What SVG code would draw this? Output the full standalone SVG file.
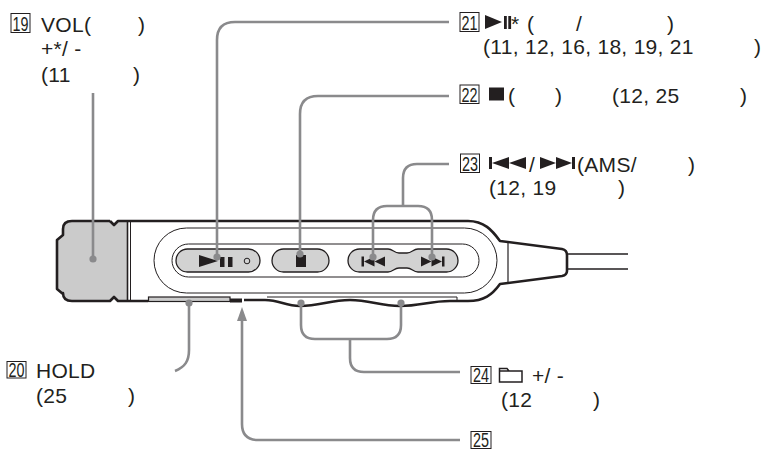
<svg xmlns="http://www.w3.org/2000/svg" width="770" height="450" viewBox="0 0 770 450">
<style>
text{font-family:"Liberation Sans",Arial,sans-serif;font-size:21px;fill:#231f20;letter-spacing:0.3px}
.num{font-size:20px;letter-spacing:0}
.box{fill:#fff;stroke:#231f20;stroke-width:1}
.ld{fill:none;stroke:#8a8a8c;stroke-width:2.6}
.dot{fill:#8a8a8c}
.ol{fill:none;stroke:#231f20;stroke-width:2.6;stroke-linejoin:round}
.thin{fill:none;stroke:#231f20;stroke-width:1}
.btn{fill:#d2d2d2;stroke:#231f20;stroke-width:1.3}
.ic{fill:#231f20}
</style>
<g id="device">
<path d="M127,222 H118 L114,225.5 L110,222 H72 Q64,222 64,229 V235 L58,240 V289 L64,294 V293 Q64,300 72,300 H110 L114,296.5 L118,300 H127 Z" fill="#cbcbcb"/>
<path class="ol" d="M110,221 H72 Q63,221 63,229 V235 L57,240 V289 L63,294 V293 Q63,301 72,301 H110 L114,297 L118,301 H148"/>
<path class="ol" d="M110,221 L114,225 L118,221 H468 C484,221 492,230 500,241 L562,249 Q567,250 567,255 V271 Q567,275 562,276 L508,283 L500,284 C492,295 484,301 468,301 H450 C430,301 420,306 400,306 C380,306 370,300 350,300 C330,300 320,306 300,306 C285,306 280,300 265,300 H244"/>
<line x1="127.5" y1="222" x2="127.5" y2="300" stroke="#231f20" stroke-width="1.6"/>
<line x1="130.5" y1="222" x2="130.5" y2="300" stroke="#231f20" stroke-width="1"/>
<rect x="230" y="298.5" width="12" height="4" fill="#231f20"/>
<rect x="148.5" y="297" width="81.5" height="4.5" fill="#cbcbcb" stroke="#231f20" stroke-width="1.2"/>
<path class="thin" d="M267,297 H457 V300"/>
<line x1="508" y1="241.5" x2="508" y2="282.5" stroke="#231f20" stroke-width="1.2"/>
<path d="M567,254 H628 M567,269 H628" stroke="#231f20" stroke-width="1.5" fill="none"/>
<rect class="thin" x="154" y="228" width="343" height="65" rx="32.5"/>
<rect class="thin" x="172" y="244" width="307" height="33" rx="16.5"/>
</g>
<g id="btn-play">
<rect class="btn" x="176" y="249" width="84" height="23" rx="11.5"/>
<polygon class="ic" points="199,255 218,261 199,267"/>
<rect class="ic" x="220" y="257" width="4.5" height="10"/>
<rect class="ic" x="228" y="257" width="4.5" height="10"/>
<circle cx="247" cy="261" r="2.8" fill="none" stroke="#231f20" stroke-width="1"/>
</g>
<g id="btn-stop">
<rect class="btn" x="272" y="249" width="57" height="23" rx="11.5"/>
<rect class="ic" x="296" y="255" width="10" height="12"/>
</g>
<g id="btn-ams">
<path class="btn" d="M360,249 H388 C393,249 394,253 399,253 H407 C412,253 413,249 418,249 H446.5 A11.5,11.5 0 0 1 446.5,272 H418 C413,272 412,268 407,268 H399 C394,268 393,272 388,272 H359.5 A11.5,11.5 0 0 1 359.5,249 Z"/>
<rect class="ic" x="361.5" y="256.5" width="2.5" height="10"/>
<polygon class="ic" points="364,261.5 374.5,256.5 374.5,266.5"/>
<polygon class="ic" points="374.5,261.5 385,256.5 385,266.5"/>
<polygon class="ic" points="421,256.5 431.5,261.5 421,266.5"/>
<polygon class="ic" points="431.5,256.5 442,261.5 431.5,266.5"/>
<rect class="ic" x="442" y="256.5" width="2.5" height="10"/>
</g>
<g id="connectors">
<path class="ld" d="M93,93 V259"/>
<path class="ld" d="M217,257 V40 Q217,22 235,22 H449"/>
<path class="ld" d="M300,254 V114 Q300,96 318,96 H449"/>
<path class="ld" d="M373,257 V220 Q373,206 387,206 H418 Q432,206 432,220 V257"/>
<path class="ld" d="M403,206 V178 Q403,164 417,164 H449"/>
<path class="ld" d="M301,303 V325 Q301,339 315,339 H387 Q401,339 401,325 V303"/>
<path class="ld" d="M350,339 V358 Q350,372 364,372 H460"/>
<path class="ld" d="M189,303 V350 C189,361 185,367 175,371"/>
<path class="ld" d="M242,320 V424 Q242,440 258,440 H460"/>
<polygon points="237,321 242,307 247,321" fill="#8a8a8c"/>
<circle class="dot" cx="93" cy="259" r="3.6"/>
<circle class="dot" cx="217" cy="257" r="3.6"/>
<circle class="dot" cx="300" cy="254" r="3.6"/>
<circle class="dot" cx="373" cy="257" r="3.6"/>
<circle class="dot" cx="432" cy="257" r="3.6"/>
<circle class="dot" cx="301" cy="303" r="3.6"/>
<circle class="dot" cx="401" cy="303" r="3.6"/>
<circle class="dot" cx="189" cy="303" r="3.6"/>
</g>
<g id="label19">
<rect class="box" x="11" y="13.5" width="19" height="19"/>
<text class="num" x="12.5" y="31" textLength="16" lengthAdjust="spacingAndGlyphs">19</text>
<text x="41" y="32" letter-spacing="1.7">VOL(<tspan x="138">)</tspan></text>
<text x="41" y="56">+*/ -</text>
<text x="41" y="82">(11<tspan x="133">)</tspan></text>
</g>
<g id="label21">
<rect class="box" x="460" y="12.5" width="19" height="19"/>
<text class="num" x="461.5" y="30" textLength="16" lengthAdjust="spacingAndGlyphs">21</text>
<polygon class="ic" points="485,15 502,22 485,29"/>
<rect class="ic" x="504" y="16" width="2.8" height="13"/>
<rect class="ic" x="508.3" y="16" width="2.8" height="13"/>
<text x="511" y="30.5">*<tspan x="527">(</tspan><tspan x="576">/</tspan><tspan x="667">)</tspan></text>
<text x="483" y="54">(11, 12, 16, 18, 19, 21<tspan x="754">)</tspan></text>
</g>
<g id="label22">
<rect class="box" x="460" y="85" width="19" height="18.5"/>
<text class="num" x="461.5" y="102" textLength="16" lengthAdjust="spacingAndGlyphs">22</text>
<rect class="ic" x="489" y="87.5" width="15" height="13"/>
<text x="508" y="103">(<tspan x="555">)</tspan><tspan x="612">(12, 25</tspan><tspan x="740">)</tspan></text>
</g>
<g id="label23">
<rect class="box" x="460.5" y="154" width="19" height="18.5"/>
<text class="num" x="462" y="171" textLength="16" lengthAdjust="spacingAndGlyphs">23</text>
<rect class="ic" x="489" y="157" width="3" height="12"/>
<polygon class="ic" points="492,163 509,157 509,169"/>
<polygon class="ic" points="509,163 526,157 526,169"/>
<text x="529" y="172">/</text>
<polygon class="ic" points="540,157 556,163 540,169"/>
<polygon class="ic" points="556,157 572,163 556,169"/>
<rect class="ic" x="572" y="157" width="3" height="12"/>
<text x="577" y="172" letter-spacing="1.9">(AMS/<tspan x="688">)</tspan></text>
<text x="489" y="195">(12, 19<tspan x="618">)</tspan></text>
</g>
<g id="label24">
<rect class="box" x="471" y="366.5" width="20" height="17"/>
<text class="num" x="473" y="382" textLength="16" lengthAdjust="spacingAndGlyphs">24</text>
<path d="M499.5,382 V368.5 H507 L509,371 H522 V382 Z M499.5,371 H509" fill="none" stroke="#231f20" stroke-width="1.5"/>
<text x="532" y="383" letter-spacing="0">+/ -</text>
<text x="501" y="407">(12<tspan x="593">)</tspan></text>
</g>
<g id="label25">
<rect class="box" x="471" y="431.5" width="20" height="17"/>
<text class="num" x="473" y="446.5" textLength="16" lengthAdjust="spacingAndGlyphs">25</text>
</g>
<g id="label20">
<rect class="box" x="7" y="361.5" width="19" height="16.5"/>
<text class="num" x="8.5" y="377" textLength="16" lengthAdjust="spacingAndGlyphs">20</text>
<text x="36" y="378" letter-spacing="1.2">HOLD</text>
<text x="36" y="403">(25<tspan x="128">)</tspan></text>
</g>
</svg>
